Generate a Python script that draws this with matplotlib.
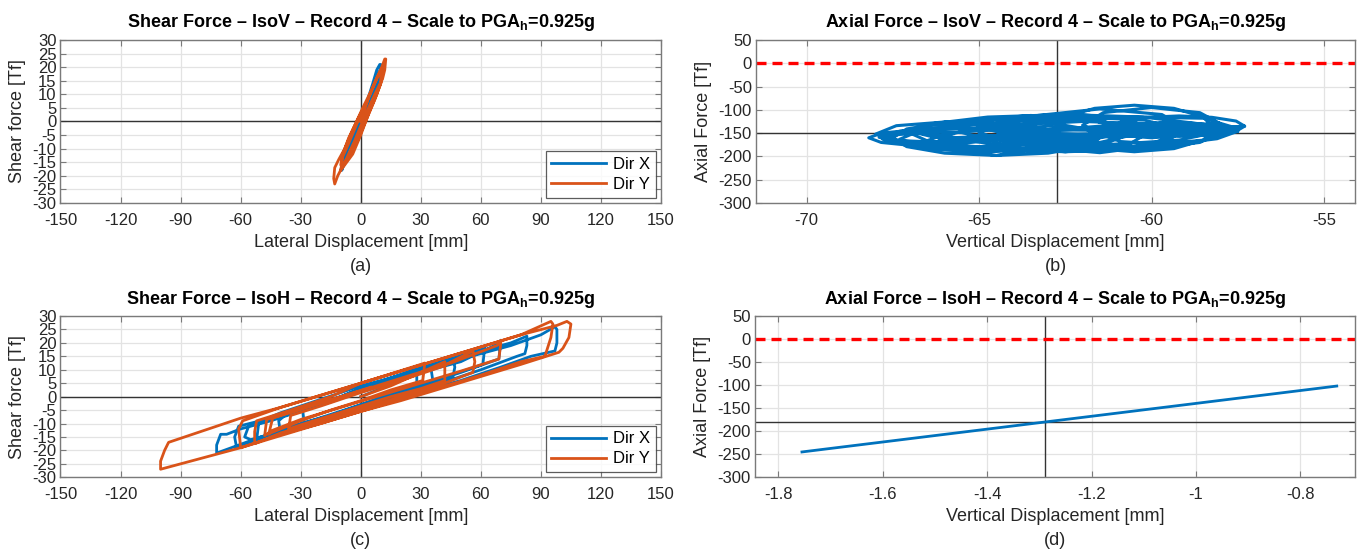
import numpy as np
import matplotlib
matplotlib.use('Agg')
import matplotlib.pyplot as plt
from matplotlib.ticker import FormatStrFormatter


"""Font Settings"""
plt.rcParams['font.family'] = ['Liberation Sans', 'DejaVu Sans']
plt.rcParams['mathtext.fontset'] = 'custom'
plt.rcParams['mathtext.rm'] = 'Liberation Sans'
plt.rcParams['mathtext.bf'] = 'Liberation Sans:bold'
plt.rcParams['font.size'] = 12
plt.rcParams['axes.unicode_minus'] = False


"""Data"""
# (a) shear force vs lateral displacement, IsoV
lat_v_x = [0, 3, 6, 8, 9.5, 10, 9.5, 7, 4, 0,
           -4, -7, -9, -9.5, -8, -5, -2, 2, 5, 7.5,
           9, 10.5, 10.5, 9, 6, 2, -2, -6, -8.5, -10,
           -9, -7, -3, 1, 4, 7, 8.5, 8, 5, 1, -3, -5]
shear_v_x = [0, 7, 14, 19, 21, 21, 16, 11, 5, -3,
             -10, -14, -17, -18, -13, -8, -3, 4, 10, 15,
             18, 20, 17, 13, 7, 0, -7, -13, -16, -18,
             -15, -11, -4, 3, 8, 14, 17, 13, 7, 1, -6, -9]
lat_v_y = [0, 4, 8, 10, 11, 10.5, 8, 4, 0, -4,
           -8, -10, -9, -6, -2, 3, 7, 10.5, 12, 12.5,
           12, 11, 7, 2, -3, -8, -11.5, -13, -13.5, -13,
           -11, -8, -4, 1, 5, 8, 10, 10, 7, 3,
           -1, -5, -8, -10, -9, -6, -2, 2]
shear_v_y = [0, 9, 16, 19, 20, 15, 10, 3, -5, -12,
             -16, -18, -13, -8, -1, 7, 14, 20, 23, 23,
             19, 16, 10, 2, -7, -15, -20, -23, -21, -17,
             -14, -10, -3, 5, 11, 16, 19, 14, 8, 1,
             -6, -12, -15, -16, -12, -6, 0, 6]

# (b) axial force vs vertical displacement, IsoV (one loop per row)
vert_v = [-62.8, -63.16, -64.15, -65.5, -66.85, -67.84, -68.2, -67.84, -66.85, -65.5, -64.15, -63.16, -62.8,
          -64.2, -64.7, -66.0, -67.3, -67.8, -67.3, -66.0, -64.7, -64.2,
          -62.7, -63.4, -65.0, -66.6, -67.3, -66.6, -65.0, -63.4, -62.7,
          -61.5, -61.9, -63.0, -64.5, -66.0, -67.1, -67.5, -67.1, -66.0, -64.5, -63.0, -61.9, -61.5,
          -60.5, -61.4, -63.5, -65.6, -66.5, -65.6, -63.5, -61.4, -60.5,
          -58.0, -58.6, -60.25, -62.5, -64.75, -66.4, -67.0, -66.4, -64.75, -62.5, -60.25, -58.6, -58.0,
          -60.0, -60.7, -62.5, -64.3, -65.0, -64.3, -62.5, -60.7, -60.0,
          -59.0, -59.7, -61.5, -63.3, -64.0, -63.3, -61.5, -59.7, -59.0,
          -58.2, -58.5, -59.35, -60.5, -61.65, -62.5, -62.8, -62.5, -61.65, -60.5, -59.35, -58.5, -58.2,
          -57.3, -57.55, -58.25, -59.2, -60.15, -60.85, -61.1, -60.85, -60.15, -59.2, -58.25, -57.55, -57.3,
          -58.0, -58.5, -59.5, -60.5, -61.0, -60.5, -59.5, -58.5, -58.0,
          -59.6, -59.9, -60.5, -61.1, -61.4, -61.1, -60.5, -59.9, -59.6,
          -57.5, -58.5, -61.0, -63.5, -64.5, -63.5, -61.0, -58.5, -57.5,
          -62.5, -63.1, -64.5, -65.9, -66.5, -65.9, -64.5, -63.1, -62.5,
          -65.1, -65.5, -66.5, -67.5, -67.9, -67.5, -66.5, -65.5, -65.1,
          -58.0, -59.2, -62.0, -64.8, -66.0, -64.8, -62.0, -59.2, -58.0,
          -61.0, -61.6, -63.0, -64.4, -65.0, -64.4, -63.0, -61.6, -61.0,
          -58.0, -58.6, -60.0, -61.4, -62.0, -61.4, -60.0, -58.6, -58.0,
          -64.0, -64.6, -66.0, -67.4, -68.0, -67.4, -66.0, -64.6, -64.0,
          -61.5, -61.9, -63.0, -64.1, -64.5, -64.1, -63.0, -61.9, -61.5,
          -59.5, -60.1, -61.5, -62.9, -63.5, -62.9, -61.5, -60.1, -59.5,
          -59.5, -60.2, -62.0, -63.8, -64.5, -63.8, -62.0, -60.2, -59.5,
          -61.5, -62.2, -64.0, -65.8, -66.5, -65.8, -64.0, -62.2, -61.5,
          -65.8, -66.1, -66.8, -67.5, -67.8, -67.5, -66.8, -66.1, -65.8,
          -57.5, -58.1, -59.5, -60.9, -61.5, -60.9, -59.5, -58.1, -57.5,
          -63.0, -63.6, -65.0, -66.4, -67.0, -66.4, -65.0, -63.6, -63.0]
axial_v = [-160, -150, -142.7, -140, -142.7, -150, -160, -170, -177.3, -180, -177.3, -170, -160,
           -152, -143, -140, -146, -157, -166, -170, -163, -152,
           -160, -142, -132, -141, -163, -182, -192, -180, -160,
           -160, -141, -127, -122, -127, -141, -160, -179, -193, -198, -193, -179, -160,
           -148, -124, -112, -125, -152, -176, -188, -174, -148,
           -150, -130, -115.4, -110, -115.4, -130, -150, -170, -184.6, -190, -184.6, -170, -150,
           -145, -118, -108, -120, -150, -178, -190, -176, -145,
           -140, -110, -98, -112, -148, -180, -192, -175, -140,
           -140, -115, -96.7, -90, -96.7, -115, -140, -165, -183.3, -190, -183.3, -165, -140,
           -135, -124, -116, -113, -116, -124, -135, -146, -154, -157, -154, -146, -135,
           -138, -131, -128, -132, -141, -149, -152, -147, -138,
           -142, -136, -133, -137, -144, -150, -153, -149, -142,
           -140, -118, -115, -128, -155, -178, -182, -165, -140,
           -162, -150, -142, -150, -166, -182, -198, -180, -162,
           -156, -149, -146, -150, -159, -166, -170, -165, -156,
           -146, -132, -125, -135, -155, -172, -178, -165, -146,
           -140, -124, -115, -126, -147, -166, -175, -160, -140,
           -130, -106, -95, -106, -133, -152, -160, -150, -130,
           -147, -135, -126, -134, -152, -168, -176, -165, -147,
           -155, -141, -135, -141, -155, -169, -175, -169, -155,
           -158, -143, -135, -143, -162, -178, -185, -176, -158,
           -136, -122, -116, -123, -140, -154, -160, -152, -136,
           -170, -160, -154, -160, -174, -184, -190, -182, -170,
           -161, -154, -150, -154, -163, -170, -174, -169, -161,
           -146, -132, -126, -134, -152, -168, -175, -162, -146,
           -143, -133, -127, -133, -146, -157, -163, -155, -143]

# (c) shear force vs lateral displacement, IsoH
lat_h_x = [0, 10, 20, 28, 28, 15, 0, -15, -28, -29,
           -15, 0, 15, 30, 46, 47, 46, 30, 10, -10,
           -30, -48, -62, -63, -61, -45, -25, 0, 25, 50,
           68, 70, 69, 50, 25, 0, -25, -50, -72, -72,
           -70, -67, -60, -45, -20, 0, 20, 40, 60, 75,
           83, 83, 82, 78, 60, 40, 20, 0, -20, -40,
           -55, -58, -56, -40, -20, 0, 25, 50, 75, 90,
           97, 98, 98, 97, 85, 70, 50, 30, 10, 0,
           -15, -30, -40, -41, -38, -25, -10, 5, 20, 35,
           36, 34, 20, 5, -10, -25, -45, -52, -51, -35,
           -15, 0, 15, 30, 55, 62, 61, 45, 25, 5, -10]
shear_h_x = [0, 3, 6, 9.5, 4, 1, -3, -7, -11.5, -5,
             -2, 2, 6, 10, 14.5, 11, 7, 3.5, -1.5, -6,
             -10, -15, -19, -15, -11, -8, -3, 2, 8, 13,
             19.5, 21, 14, 9, 3, -3, -9, -15, -21, -18,
             -14, -14, -12, -9, -3, 3, 8, 13, 17, 20,
             22.5, 19, 16, 15, 10, 5, 1, -4, -8, -13,
             -16, -15, -11, -6, -1, 4, 9, 14, 19, 23,
             26, 25, 20, 17, 15, 11, 6, 2, -2, -4,
             -8, -11.5, -14, -9, -7, -4, 0, 4, 8, 11,
             6, 4, 1, -3, -6, -9.5, -15, -16, -10, -6,
             -1.5, 3, 7, 11, 17, 18.5, 12, 8, 3, -2, -6]
lat_h_y = [0, 15, 30, 42, 42, 30, 15, 0, -15, -30,
           -36, -35, -20, 0, 20, 40, 56, 57, 56, 40,
           20, 0, -20, -40, -53, -53, -52, -35, -15, 0,
           20, 40, 60, 80, 95, 96, 95, 92, 80, 60,
           40, 20, 0, -20, -40, -60, -80, -100, -100, -98,
           -96, -80, -60, -40, -20, 0, 20, 40, 60, 80,
           98, 103, 105, 104, 101, 99, 80, 60, 40, 20,
           0, -20, -40, -60, -61, -59, -40, -20, 0,
           15, 30, 32, 31, 15, 0, -15, -30, -45, -46,
           -44, -25, -5, 10, 25, 45, 68, 70, 69, 50,
           30, 10, -10, -30, -44, -48, -47, -30, -10, 5]
shear_h_y = [0, 4, 9, 13, 6, 3, 0, -3.5, -7, -10.5,
             -12, -7, -3.5, 1.5, 6, 11, 17, 13, 9, 4.5,
             0, -4.5, -9, -13.5, -17.5, -13, -9, -5, 0, 5,
             9.5, 14, 18.5, 23, 28, 27, 22, 15, 13, 8,
             3.5, -1, -5.5, -10, -14, -19, -23, -27, -24, -20,
             -17, -13, -8, -4, 0.5, 5, 9.5, 14, 18.5, 23,
             26.5, 28, 27, 22, 18, 16.5, 12, 7.5, 3, -1.5,
             -5.5, -10, -14.5, -19, -12, -9, -4, 0.5, 5,
             8.5, 12, 12.5, 6, 2.5, -1.5, -5, -9, -13.5, -14,
             -8, -3.5, 1, 4.5, 8, 12.5, 19, 20, 14, 9.5,
             5, 0.5, -4, -8.5, -12.5, -14.5, -8.5, -4.5, 0, 3.5]

# (d) axial force vs vertical displacement, IsoH
vert_h = [-1.755, -0.73]
axial_h = [-245, -102]

# reference (crosshair) lines
cross_b = (-62.75, -150)
cross_d = (-1.29, -180)

titles = [r'Shear Force – IsoV – Record 4 – Scale to PGA$_\mathbf{h}$=0.925g',
          r'Axial Force – IsoV – Record 4 – Scale to PGA$_\mathbf{h}$=0.925g',
          r'Shear Force – IsoH – Record 4 – Scale to PGA$_\mathbf{h}$=0.925g',
          r'Axial Force – IsoH – Record 4 – Scale to PGA$_\mathbf{h}$=0.925g']
panel_tags = ['(a)', '(b)', '(c)', '(d)']

blue = '#0072BD'
orange = '#D95319'
box_col = '#7a7a7a'
txt_col = '#262626'


fig = plt.figure(figsize=(13.69, 5.53), dpi=100, facecolor='white')

ax_a = fig.add_axes([0.04419, 0.63291, 0.43864, 0.29476])
ax_b = fig.add_axes([0.55223, 0.63291, 0.43755, 0.29476])
ax_c = fig.add_axes([0.04419, 0.13689, 0.43864, 0.29168])
ax_d = fig.add_axes([0.55150, 0.13689, 0.43828, 0.29168])
axes = [ax_a, ax_b, ax_c, ax_d]


def style(ax, title, tag):
    for s in ax.spines.values():
        s.set_color(box_col)
        s.set_linewidth(1.0)
    ax.tick_params(direction='in', top=True, right=True, length=4,
                   color=box_col, labelcolor=txt_col, labelsize=12)
    ax.tick_params(axis='x', pad=7)
    ax.tick_params(axis='y', pad=3)
    ax.grid(True, color='#e3e3e3', linewidth=0.9)
    ax.set_axisbelow(True)
    ax.set_title(title, fontsize=13, fontweight='bold', pad=9, color='black')
    ax.text(0.5, -0.39, tag, transform=ax.transAxes, ha='center', va='center',
            fontsize=13, color=txt_col)


# (a)
ax_a.axhline(0, color='#333333', lw=1.0, zorder=1)
ax_a.axvline(0, color='#333333', lw=1.0, zorder=1)
ax_a.plot(lat_v_x, shear_v_x, color=blue, lw=2, label='Dir X', solid_joinstyle='round')
ax_a.plot(lat_v_y, shear_v_y, color=orange, lw=2, label='Dir Y', solid_joinstyle='round')

# (c)
ax_c.axhline(0, color='#333333', lw=1.0, zorder=1)
ax_c.axvline(0, color='#333333', lw=1.0, zorder=1)
ax_c.plot(lat_h_x, shear_h_x, color=blue, lw=2, label='Dir X', solid_joinstyle='round')
ax_c.plot(lat_h_y, shear_h_y, color=orange, lw=2, label='Dir Y', solid_joinstyle='round')

for ax in (ax_a, ax_c):
    ax.set_xlim(-150, 150)
    ax.set_ylim(-30, 30)
    ax.set_xticks(np.arange(-150, 151, 30))
    ax.set_yticks(np.arange(-30, 31, 5))
    ax.set_xlabel('Lateral Displacement [mm]', fontsize=13, color=txt_col)
    ax.set_ylabel('Shear force [Tf]', fontsize=13, color=txt_col)
    ax.yaxis.set_label_coords(-0.058, 0.5)
    ax.xaxis.set_label_coords(0.5, -0.19)
    leg = ax.legend(loc='lower right', fontsize=12, frameon=True, fancybox=False,
                    handlelength=3.3, borderaxespad=0.3, labelspacing=0.3,
                    handletextpad=0.4, borderpad=0.35)
    leg.get_frame().set_edgecolor('#333333')
    leg.get_frame().set_linewidth(0.9)

# (b)
ax_b.axhline(cross_b[1], color='#333333', lw=1.0, zorder=1)
ax_b.axvline(cross_b[0], color='#333333', lw=1.0, zorder=1)
ax_b.plot(vert_v, axial_v, color=blue, lw=2.2, solid_joinstyle='round')
ax_b.axhline(0, color='red', lw=2.4, linestyle=(0, (3, 1.8)))
ax_b.set_xlim(-71.47, -54.10)
ax_b.set_xticks([-70, -65, -60, -55])

# (d)
ax_d.axhline(cross_d[1], color='#333333', lw=1.0, zorder=1)
ax_d.axvline(cross_d[0], color='#333333', lw=1.0, zorder=1)
ax_d.plot(vert_h, axial_h, color=blue, lw=2)
ax_d.axhline(0, color='red', lw=2.4, linestyle=(0, (3, 1.8)))
ax_d.set_xlim(-1.845, -0.695)
ax_d.set_xticks([-1.8, -1.6, -1.4, -1.2, -1.0, -0.8])
ax_d.xaxis.set_major_formatter(FormatStrFormatter('%g'))

for ax in (ax_b, ax_d):
    ax.set_ylim(-300, 50)
    ax.set_yticks(np.arange(-300, 51, 50))
    ax.set_xlabel('Vertical Displacement [mm]', fontsize=13, color=txt_col)
    ax.set_ylabel('Axial Force [Tf]', fontsize=13, color=txt_col)
    ax.yaxis.set_label_coords(-0.074, 0.5)
    ax.xaxis.set_label_coords(0.5, -0.19)

for ax, t, tag in zip(axes, titles, panel_tags):
    style(ax, t, tag)

fig.savefig('out.png', dpi=100, facecolor='white')
